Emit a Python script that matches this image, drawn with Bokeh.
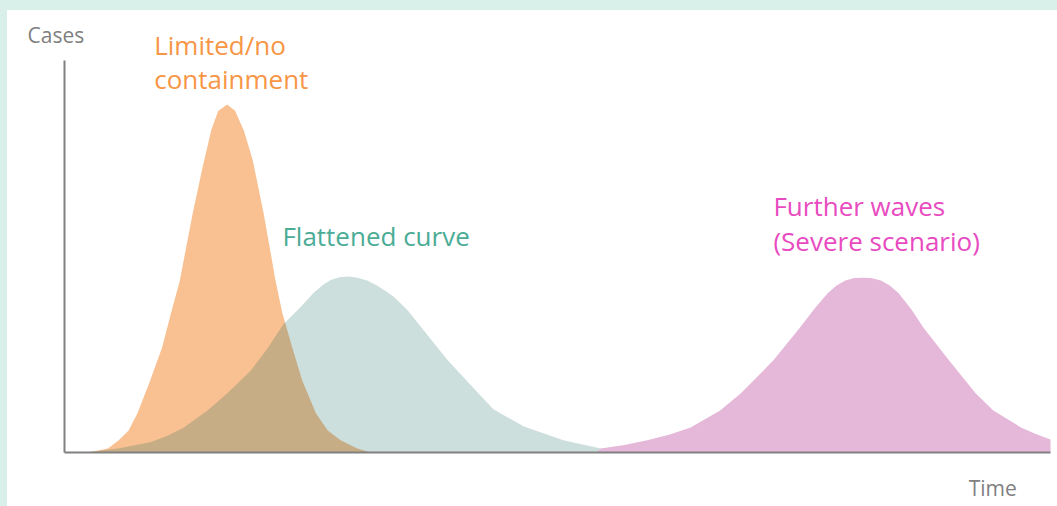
from bokeh.plotting import figure
from bokeh.models import Range1d, Label, Spacer
from bokeh.layouts import column, row
from bokeh.embed import file_html
from bokeh.resources import INLINE

# ---- data (time 0-100, cases 0-100) ----
orange_time = [2.4, 4.4, 5.5, 6.5, 7.4, 8.7, 9.9, 10.8, 11.7, 13.0, 14.0, 14.9, 15.6, 16.5,
               17.3, 18.2, 19.1, 20.2, 21.4, 22.1, 23.1, 24.1, 25.5, 26.7, 28.0, 29.7, 31.1]
orange_cases = [0, 1.0, 3.1, 5.6, 10.0, 18.4, 26.8, 35.5, 43.9, 61.0, 72.7, 82.4, 87.2, 88.8,
                87.2, 82.1, 74.5, 61.0, 43.9, 35.5, 26.8, 18.4, 10.0, 5.6, 3.1, 1.0, 0]

teal_time = [2.1, 5.4, 8.7, 10.4, 12.1, 14.5, 16.6, 18.9, 20.6, 22.2, 23.9, 25.3, 26.2, 27.0,
             27.9, 28.8, 29.7, 30.7, 31.6, 32.5, 33.4, 34.8, 36.1, 38.8, 41.9, 43.5, 46.6,
             50.6, 54.4, 57.4, 60.5]
teal_cases = [0, 1.0, 2.6, 4.2, 6.4, 10.7, 15.3, 20.9, 26.6, 32.7, 37.0, 40.8, 42.7, 44.0,
              44.7, 44.9, 44.6, 43.9, 42.7, 41.3, 39.7, 36.3, 32.2, 23.7, 15.3, 11.0, 6.6,
              3.1, 1.0, 0.3, 0]

pink_time = [53.9, 54.4, 56.8, 59.1, 61.4, 63.5, 66.5, 68.6, 71.9, 74.6, 76.0, 77.4, 78.3,
             79.2, 80.1, 80.9, 81.8, 82.8, 83.7, 84.6, 85.9, 87.1, 89.7, 92.4, 94.2, 97.0,
             98.5, 100.0]
pink_cases = [0, 1.0, 1.9, 3.1, 4.6, 6.4, 10.7, 15.1, 23.5, 31.9, 36.5, 40.6, 42.6,
              43.9, 44.5, 44.6, 44.5, 43.9, 42.6, 40.6, 36.5, 31.9, 23.5, 15.1, 10.7, 6.4,
              4.7, 3.3]

labels_orange = ["Limited/no", "containment"]
label_teal = "Flattened curve"
labels_pink = ["Further waves", "(Severe scenario)"]
y_title = "Cases"
x_title = "Time"

MINT = "#d9efe9"
FONT = "Open Sans"

p = figure(width=1050, height=496, output_backend="svg", toolbar_location=None,
           x_range=Range1d(-5.78, 100.71), y_range=Range1d(-13.78, 112.76),
           min_border=0)
p.outline_line_color = None
p.background_fill_color = "white"
p.border_fill_color = "white"
p.xgrid.visible = False
p.ygrid.visible = False

for ax in (p.xaxis[0], p.yaxis[0]):
    ax.fixed_location = 0
    ax.bounds = (0, 100)
    ax.axis_line_color = "#808080"
    ax.axis_line_width = 2
    ax.major_tick_line_color = None
    ax.minor_tick_line_color = None
    ax.major_tick_out = 0
    ax.major_tick_in = 0
    ax.minor_tick_out = 0
    ax.minor_tick_in = 0
    ax.major_label_standoff = 0
    ax.major_label_text_font_size = "0px"
    ax.major_label_text_color = None

p.varea(x=orange_time, y1=0, y2=orange_cases, fill_color="#f9c192")
p.varea(x=teal_time, y1=0, y2=teal_cases, fill_color="#005f55", fill_alpha=0.2)
p.varea(x=pink_time, y1=0, y2=pink_cases, fill_color="#e5b7d9")

def lab(x, y, text, color, size):
    p.add_layout(Label(x=x, y=y, text=text, text_color=color, text_font=FONT,
                       text_font_size=size, text_baseline="alphabetic", text_align="left"))

lab(-3.75, 106.6, y_title, "#7f7f7f", "21px")
lab(91.7, -9.0, x_title, "#7f7f7f", "21px")
lab(9.1, 104.0, labels_orange[0], "#f79646", "26px")
lab(9.1, 95.4, labels_orange[1], "#f79646", "26px")
lab(22.1, 55.2, label_teal, "#4bac96", "26px")
lab(71.9, 62.8, labels_pink[0], "#e84bbf", "26px")
lab(71.9, 53.9, labels_pink[1], "#e84bbf", "26px")

top = Spacer(width=1057, height=10, styles={"background-color": MINT})
left = Spacer(width=7, height=496, styles={"background-color": MINT})
layout = column(top, row(left, p))

open("out.html", "w").write(file_html(layout, INLINE))
